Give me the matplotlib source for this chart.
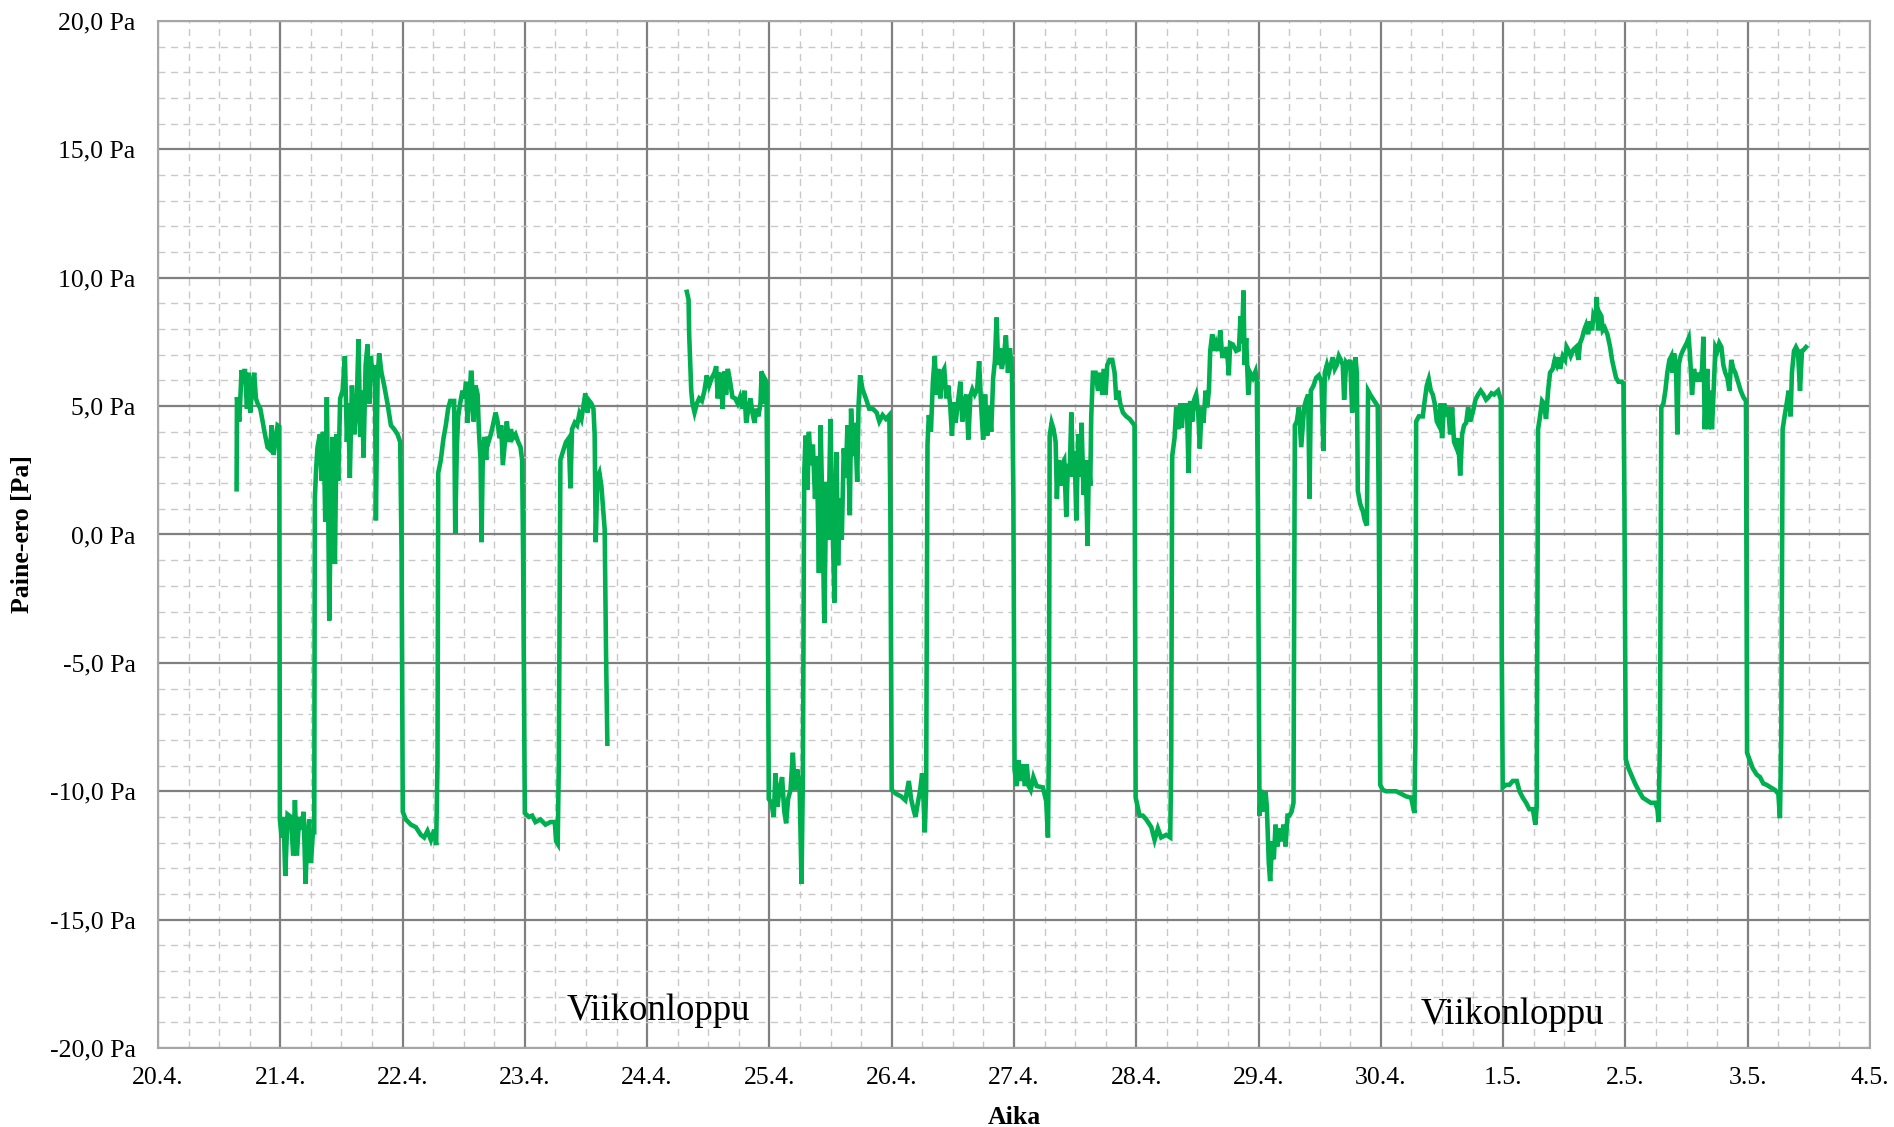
import numpy as np
import matplotlib
matplotlib.use("Agg")
import matplotlib.pyplot as plt
from matplotlib.ticker import MultipleLocator

plt.rcParams['font.family'] = ['Liberation Serif', 'DejaVu Serif']

# Akselien tekstit
paivat = ["20.4.", "21.4.", "22.4.", "23.4.", "24.4.", "25.4.", "26.4.", "27.4.",
          "28.4.", "29.4.", "30.4.", "1.5.", "2.5.", "3.5.", "4.5."]
y_arvot = [-20, -15, -10, -5, 0, 5, 10, 15, 20]
viikonloput = [(4.09, -18.55, "Viikonloppu"), (11.08, -18.7, "Viikonloppu")]

# Mittausjakso 1 (aika = vrk alkaen 20.4. klo 0, paine-ero Pa)
jakso1_aika = [
    0.643, 0.646, 0.665, 0.684, 0.700, 0.711, 0.728, 0.738, 0.755, 0.774, 0.787, 0.801,
    0.815, 0.837, 0.856, 0.875, 0.896, 0.918, 0.929, 0.946, 0.965, 0.978, 0.992, 0.997,
    1.011, 1.027, 1.041, 1.060, 1.087, 1.106, 1.120, 1.136, 1.155, 1.174, 1.191, 1.207,
    1.218, 1.237, 1.251, 1.267, 1.278, 1.283, 1.294, 1.305, 1.324, 1.338, 1.349, 1.360,
    1.368, 1.381, 1.392, 1.401, 1.414, 1.428, 1.447, 1.460, 1.474, 1.490, 1.510, 1.529,
    1.545, 1.556, 1.569, 1.586, 1.605, 1.624, 1.640, 1.654, 1.670, 1.681, 1.698, 1.714,
    1.730, 1.741, 1.757, 1.774, 1.782, 1.796, 1.809, 1.828, 1.850, 1.877, 1.905, 1.932,
    1.959, 1.981, 1.992, 2.002, 2.027, 2.068, 2.109, 2.150, 2.177, 2.204, 2.232, 2.259,
    2.275, 2.286, 2.292, 2.313, 2.335, 2.354, 2.373, 2.390, 2.422, 2.431, 2.444, 2.455,
    2.471, 2.490, 2.504, 2.520, 2.531, 2.548, 2.559, 2.565, 2.581, 2.597, 2.614, 2.624,
    2.638, 2.646, 2.657, 2.671, 2.684, 2.693, 2.706, 2.722, 2.739, 2.761, 2.777, 2.793,
    2.807, 2.820, 2.837, 2.853, 2.869, 2.886, 2.902, 2.924, 2.946, 2.965, 2.978, 2.986,
    3.000, 3.033, 3.060, 3.087, 3.128, 3.169, 3.210, 3.245, 3.256, 3.269, 3.278, 3.291,
    3.313, 3.337, 3.359, 3.373, 3.386, 3.408, 3.427, 3.446, 3.463, 3.482, 3.495, 3.512,
    3.528, 3.544, 3.561, 3.571, 3.580, 3.593, 3.610, 3.626, 3.637, 3.653, 3.664, 3.675,
]
jakso1_paine = [
    1.76, 5.35, 4.4, 6.4, 5.9, 6.45, 4.9, 6.3, 4.75, 5.95, 6.3, 5.3,
    5.1, 4.9, 4.4, 3.9, 3.4, 3.3, 4.25, 3.1, 3.8, 4.25, 4.2, -11.1,
    -11.8, -11.0, -13.3, -10.9, -11.0, -12.5, -10.35, -12.5, -11.0, -11.5, -10.8, -13.6,
    -12.1, -11.1, -12.8, -11.6, -11.6, 1.4, 2.6, 3.4, 3.9, 2.1, 4.0, 2.7,
    0.5, 5.35, 1.2, -3.35, 1.2, 3.8, -1.15, 3.9, 2.1, 5.3, 5.6, 6.95,
    3.6, 5.1, 2.2, 5.8, 3.9, 4.9, 7.6, 3.8, 5.6, 3.0, 6.6, 7.4,
    5.1, 6.95, 5.95, 6.6, 0.55, 6.1, 7.05, 6.3, 5.8, 5.1, 4.25, 4.1,
    3.9, 3.6, -0.7, -10.8, -11.1, -11.3, -11.4, -11.7, -11.8, -11.55, -11.9, -11.5,
    -12.1, -8.9, 2.4, 2.9, 3.75, 4.25, 4.9, 5.2, 5.2, 0.03, 3.4, 4.6,
    5.1, 5.6, 5.3, 5.95, 4.35, 5.3, 6.3, 6.3, 4.4, 5.8, 5.45, 4.1,
    2.9, -0.3, 3.25, 3.8, 2.9, 3.8, 3.65, 3.9, 4.25, 4.75, 4.4, 3.75,
    4.25, 2.7, 3.6, 4.4, 3.6, 4.1, 3.75, 3.9, 3.6, 3.4, 2.9, -0.8,
    -10.85, -11.0, -10.95, -11.2, -11.1, -11.3, -11.2, -11.2, -11.95, -12.05, -8.9, 2.9,
    3.25, 3.6, 3.75, 1.8, 4.1, 4.35, 4.25, 4.7, 4.5, 5.1, 5.5, 4.75,
    5.2, 5.1, 4.9, 3.9, -0.3, 2.2, 2.4, 1.9, 1.2, 0.2, -4.5, -8.15,
]

# Mittausjakso 2
jakso2_aika = [
    4.325, 4.339, 4.344, 4.361, 4.371, 4.388, 4.407, 4.426, 4.448, 4.469, 4.488, 4.507,
    4.529, 4.551, 4.565, 4.578, 4.589, 4.605, 4.616, 4.633, 4.646, 4.660, 4.679, 4.698,
    4.720, 4.741, 4.760, 4.780, 4.796, 4.810, 4.829, 4.845, 4.861, 4.878, 4.894, 4.910,
    4.927, 4.937, 4.948, 4.959, 4.976, 4.984, 4.995, 5.016, 5.036, 5.049, 5.066, 5.082,
    5.104, 5.121, 5.137, 5.153, 5.173, 5.192, 5.208, 5.227, 5.247, 5.263, 5.274, 5.285,
    5.296, 5.312, 5.323, 5.340, 5.356, 5.373, 5.389, 5.405, 5.419, 5.433, 5.449, 5.466,
    5.482, 5.499, 5.515, 5.532, 5.548, 5.562, 5.575, 5.592, 5.608, 5.625, 5.638, 5.658,
    5.668, 5.685, 5.701, 5.718, 5.729, 5.742, 5.762, 5.789, 5.816, 5.844, 5.877, 5.899,
    5.926, 5.953, 5.981, 5.989, 6.000, 6.036, 6.077, 6.112, 6.140, 6.159, 6.178, 6.195,
    6.214, 6.233, 6.249, 6.260, 6.271, 6.282, 6.293, 6.304, 6.321, 6.337, 6.353, 6.364,
    6.381, 6.397, 6.414, 6.430, 6.447, 6.463, 6.479, 6.493, 6.507, 6.523, 6.542, 6.562,
    6.578, 6.595, 6.611, 6.627, 6.644, 6.660, 6.679, 6.699, 6.715, 6.732, 6.748, 6.764,
    6.781, 6.797, 6.814, 6.830, 6.844, 6.858, 6.871, 6.885, 6.901, 6.918, 6.934, 6.951,
    6.967, 6.984, 6.995, 7.005, 7.022, 7.038, 7.055, 7.071, 7.090, 7.104, 7.121, 7.137,
    7.159, 7.186, 7.237, 7.264, 7.278, 7.286, 7.292, 7.308, 7.324, 7.341, 7.351, 7.362,
    7.379, 7.395, 7.411, 7.428, 7.441, 7.455, 7.469, 7.482, 7.496, 7.510, 7.526, 7.537,
    7.553, 7.569, 7.586, 7.602, 7.613, 7.624, 7.632, 7.646, 7.668, 7.687, 7.706, 7.722,
    7.736, 7.749, 7.763, 7.782, 7.804, 7.823, 7.837, 7.853, 7.869, 7.891, 7.918, 7.946,
    7.986, 7.995, 8.005, 8.027, 8.054, 8.082, 8.123, 8.150, 8.177, 8.204, 8.245, 8.278,
    8.286, 8.294, 8.313, 8.327, 8.343, 8.360, 8.373, 8.387, 8.401, 8.414, 8.428, 8.441,
    8.458, 8.474, 8.490, 8.507, 8.520, 8.534, 8.550, 8.567, 8.580, 8.594, 8.605, 8.621,
    8.638, 8.654, 8.673, 8.687, 8.703, 8.722, 8.741, 8.757, 8.768, 8.790, 8.817, 8.839,
    8.853, 8.864, 8.877, 8.886, 8.899, 8.916, 8.932, 8.954, 8.975, 8.986, 8.995, 9.008,
    9.022, 9.041, 9.057, 9.068, 9.084, 9.095, 9.112, 9.125, 9.139, 9.155, 9.172, 9.188,
    9.204, 9.221, 9.237, 9.253, 9.270, 9.286, 9.297, 9.313, 9.330, 9.349, 9.362, 9.373,
    9.390, 9.406, 9.417, 9.428, 9.450, 9.471, 9.493, 9.515, 9.531, 9.542, 9.559, 9.575,
    9.591, 9.608, 9.624, 9.640, 9.657, 9.673, 9.689, 9.700, 9.717, 9.733, 9.749, 9.766,
    9.777, 9.793, 9.804, 9.812, 9.831, 9.853, 9.869, 9.886, 9.896, 9.913, 9.940, 9.975,
    9.984, 9.995, 10.016, 10.044, 10.084, 10.125, 10.166, 10.207, 10.248, 10.275, 10.283, 10.289,
    10.311, 10.343, 10.360, 10.376, 10.392, 10.409, 10.425, 10.441, 10.458, 10.474, 10.490, 10.501,
    10.518, 10.534, 10.550, 10.567, 10.583, 10.599, 10.616, 10.632, 10.649, 10.665, 10.681, 10.698,
    10.714, 10.730, 10.752, 10.774, 10.796, 10.817, 10.839, 10.861, 10.883, 10.905, 10.926, 10.959,
    10.981, 10.989, 10.997, 11.025, 11.052, 11.079, 11.112, 11.134, 11.161, 11.188, 11.215, 11.243,
    11.264, 11.275, 11.286, 11.302, 11.319, 11.335, 11.351, 11.368, 11.384, 11.406, 11.422, 11.439,
    11.455, 11.466, 11.488, 11.507, 11.520, 11.537, 11.553, 11.575, 11.597, 11.616, 11.629, 11.646,
    11.662, 11.678, 11.695, 11.711, 11.728, 11.738, 11.755, 11.766, 11.777, 11.787, 11.804, 11.815,
    11.831, 11.853, 11.875, 11.891, 11.907, 11.924, 11.943, 11.970, 11.984, 11.992, 12.003, 12.025,
    12.052, 12.079, 12.106, 12.142, 12.174, 12.207, 12.243, 12.262, 12.272, 12.283, 12.294, 12.311,
    12.327, 12.343, 12.360, 12.376, 12.387, 12.398, 12.414, 12.425, 12.436, 12.452, 12.469, 12.485,
    12.501, 12.518, 12.529, 12.545, 12.561, 12.578, 12.594, 12.610, 12.627, 12.638, 12.649, 12.659,
    12.670, 12.681, 12.698, 12.708, 12.725, 12.736, 12.752, 12.768, 12.785, 12.801, 12.817, 12.834,
    12.850, 12.866, 12.883, 12.899, 12.921, 12.943, 12.965, 12.986, 12.995, 13.014, 13.041, 13.074,
    13.101, 13.128, 13.155, 13.188, 13.223, 13.251, 13.264, 13.275, 13.286, 13.302, 13.319, 13.335,
    13.351, 13.362, 13.379, 13.395, 13.411, 13.428, 13.444, 13.460, 13.477,
]
jakso2_paine = [
    9.45, 9.15, 7.8, 5.6, 5.1, 4.75, 5.1, 5.3, 5.2, 5.6, 6.2, 5.8,
    6.1, 6.3, 6.55, 5.3, 6.1, 6.3, 4.9, 6.35, 5.45, 6.45, 5.95, 5.35,
    5.3, 5.1, 5.35, 4.9, 5.6, 4.35, 4.9, 5.3, 4.75, 4.35, 4.9, 4.6,
    5.1, 6.35, 5.1, 6.1, 5.95, 1.05, -10.3, -10.45, -11.0, -9.3, -10.6, -9.95,
    -9.45, -10.75, -11.25, -10.3, -9.95, -8.5, -9.95, -9.15, -9.8, -13.6, -9.3, 2.4,
    3.85, 1.75, 4.0, 2.7, 3.5, 1.4, 3.05, -1.5, 4.25, 1.1, -3.45, 2.05,
    -0.2, 4.5, 0.75, -2.65, 3.2, -1.2, 1.4, -0.2, 3.35, 2.2, 4.25, 0.75,
    4.9, 3.05, 4.35, 2.05, 5.0, 6.2, 5.65, 5.3, 4.9, 4.9, 4.75, 4.4,
    4.65, 4.5, 4.65, 1.1, -9.95, -10.1, -10.2, -10.35, -9.6, -10.3, -10.7, -11.0,
    -10.45, -9.95, -9.3, -10.3, -11.6, -9.95, 3.5, 4.65, 4.0, 5.95, 6.95, 5.45,
    6.45, 5.3, 6.3, 6.45, 5.3, 5.8, 5.0, 3.85, 5.15, 4.35, 5.15, 5.95,
    4.4, 5.15, 5.45, 3.7, 5.4, 5.65, 5.45, 5.65, 6.75, 5.0, 3.7, 5.45,
    3.85, 5.0, 4.0, 6.1, 6.75, 8.45, 6.6, 7.25, 6.45, 6.95, 7.75, 6.3,
    7.25, 6.3, 1.55, -9.15, -9.8, -8.8, -9.6, -8.95, -9.8, -8.95, -9.8, -9.95,
    -9.45, -9.8, -9.85, -10.4, -11.8, -8.1, 3.85, 4.35, 4.1, 3.6, 1.4, 2.9,
    1.9, 2.75, 2.9, 0.7, 2.75, 2.25, 4.75, 2.25, 3.25, 0.55, 3.9, 2.25,
    4.35, 1.55, 2.9, -0.45, 2.9, 1.9, 4.6, 6.3, 6.3, 5.6, 6.3, 5.45,
    6.45, 5.45, 6.6, 6.8, 6.8, 6.3, 5.25, 5.6, 5.1, 4.75, 4.6, 4.5,
    4.25, -10.25, -10.45, -10.95, -10.95, -11.1, -11.4, -11.9, -11.45, -11.8, -11.7, -11.8,
    -8.9, 3.05, 3.75, 4.95, 4.1, 5.1, 4.15, 5.1, 4.6, 5.1, 2.4, 5.2,
    4.4, 5.25, 5.45, 4.75, 3.35, 4.95, 4.35, 5.6, 4.95, 5.6, 7.15, 7.8,
    7.15, 7.45, 7.15, 7.95, 6.95, 6.95, 7.3, 6.2, 7.45, 7.4, 7.15, 7.2,
    8.5, 7.45, 9.5, 6.6, 7.65, 5.45, 6.3, 6.1, 6.35, 5.95, 0.95, -10.95,
    -9.95, -10.8, -10.0, -10.6, -12.8, -13.5, -11.95, -12.65, -11.3, -12.15, -11.45, -11.95,
    -11.3, -12.15, -10.95, -10.95, -10.8, -10.45, 4.25, 4.4, 4.95, 3.4, 4.25, 4.95,
    5.25, 5.45, 1.4, 5.6, 5.8, 6.1, 6.2, 5.95, 3.25, 6.3, 6.6, 6.3,
    6.6, 6.9, 6.45, 6.6, 6.95, 6.8, 6.6, 5.25, 6.7, 6.6, 6.8, 4.75,
    6.3, 6.9, 6.3, 1.7, 1.2, 0.9, 0.55, 0.35, 5.6, 5.45, 5.25, 5.0,
    0.55, -9.75, -9.95, -10.0, -10.0, -10.0, -10.1, -10.2, -10.25, -10.85, -7.9, 4.4,
    4.6, 4.6, 5.25, 5.8, 6.05, 5.6, 5.45, 5.1, 4.4, 4.25, 5.1, 3.75,
    5.1, 4.6, 4.95, 3.9, 4.95, 3.6, 3.4, 3.75, 2.3, 3.9, 4.25, 4.35,
    4.95, 4.4, 4.75, 5.25, 5.45, 5.6, 5.45, 5.25, 5.35, 5.5, 5.45, 5.6,
    5.25, -4.7, -9.85, -9.75, -9.75, -9.6, -9.6, -10.0, -10.25, -10.45, -10.7, -10.7,
    -11.3, -10.6, 4.1, 4.6, 5.2, 5.1, 4.5, 5.6, 6.3, 6.45, 6.8, 6.6,
    6.9, 6.45, 6.95, 6.8, 7.3, 7.15, 6.95, 7.2, 7.3, 6.8, 7.45, 7.65,
    7.95, 8.15, 7.8, 8.3, 7.95, 8.5, 8.3, 9.25, 7.95, 8.65, 8.5, 7.95,
    8.05, 7.8, 7.3, 6.8, 6.45, 6.1, 5.95, 5.95, 5.85, 1.4, -8.75, -9.1,
    -9.4, -9.7, -9.95, -10.25, -10.35, -10.45, -10.45, -10.7, -11.2, -7.75, 4.95, 5.1,
    5.6, 6.3, 6.8, 6.95, 6.3, 7.05, 6.6, 3.9, 6.6, 6.95, 7.15, 7.3,
    7.45, 7.65, 6.95, 5.45, 6.45, 5.95, 6.3, 5.95, 6.45, 7.7, 4.1, 5.6,
    6.45, 4.1, 5.6, 4.1, 5.95, 7.3, 7.15, 7.45, 7.3, 6.6, 6.3, 6.1,
    5.6, 6.8, 6.45, 6.3, 5.95, 5.6, 5.35, 5.2, -8.5, -8.75, -9.1, -9.35,
    -9.45, -9.7, -9.75, -9.85, -9.95, -10.1, -11.05, -7.75, 4.1, 4.6, 5.1, 5.6,
    4.6, 6.3, 7.15, 7.3, 7.15, 5.6, 7.15, 7.2, 7.3,
]

fig = plt.figure(figsize=(18.94, 11.27), dpi=100)
ax = fig.add_axes([0.0834, 0.0701, 0.9039, 0.9113])

vihrea = "#00B050"
ax.plot(jakso1_aika, jakso1_paine, color=vihrea, lw=3.3, solid_joinstyle="miter", zorder=3)
ax.plot(jakso2_aika, jakso2_paine, color=vihrea, lw=3.3, solid_joinstyle="miter", zorder=3)

ax.set_xlim(0, len(paivat) - 1)
ax.set_ylim(y_arvot[0], y_arvot[-1])
ax.set_xticks(np.arange(len(paivat)))
ax.set_xticklabels(paivat)
ax.set_yticks(y_arvot)
ax.set_yticklabels([f"{v:.1f}".replace(".", ",") + " Pa" for v in y_arvot])
ax.xaxis.set_minor_locator(MultipleLocator(0.25))
ax.yaxis.set_minor_locator(MultipleLocator(1))

ax.grid(which="major", color="#808080", lw=1.6, zorder=1)
ax.grid(which="minor", color="#C8C8C8", lw=1.0, ls=(0, (5, 4)), zorder=0)
ax.set_axisbelow(True)
ax.tick_params(which="both", length=0)
ax.tick_params(axis="y", labelsize=18.5, pad=16)
ax.tick_params(axis="x", labelsize=18.5, pad=14)
for s in ax.spines.values():
    s.set_color("#A6A6A6")
    s.set_linewidth(1.5)

ax.set_xlabel("Aika", fontsize=18.5, fontweight="bold", labelpad=12)
ax.set_ylabel("Paine-ero [Pa]", fontsize=18.5, fontweight="bold", labelpad=11)

for x, y, teksti in viikonloput:
    ax.text(x, y, teksti, fontsize=26.5, ha="center", va="center", zorder=4)

fig.savefig("out.png", dpi=100)
